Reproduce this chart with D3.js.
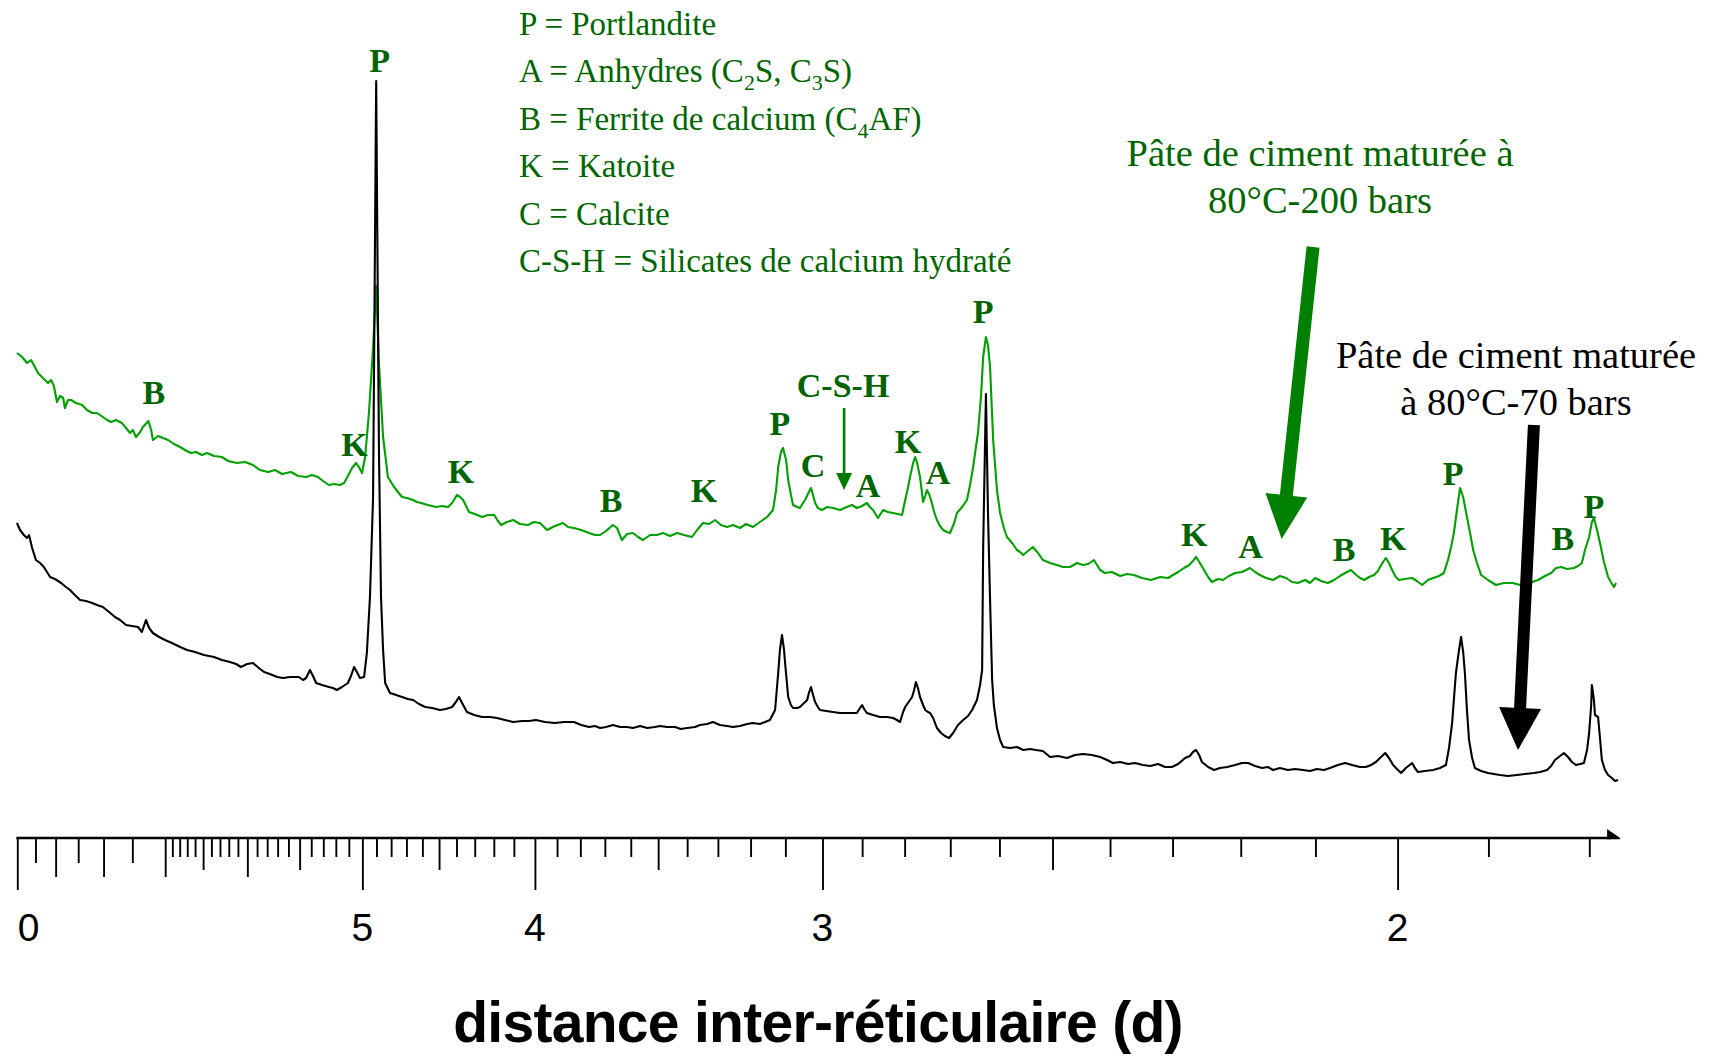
<!DOCTYPE html>
<html>
<head>
<meta charset="utf-8">
<script src="https://cdn.jsdelivr.net/npm/d3@7"></script>
<style>
  html, body { margin: 0; padding: 0; background: #ffffff; }
  svg { display: block; }
</style>
</head>
<body>
<svg id="chart" width="1710" height="1057"></svg>
<script>
// X-ray diffraction scans of two cement pastes.
// Each point: [s = 1/d (Å⁻¹), intensity (arbitrary units)].

// Paste cured at 80°C - 200 bars (green trace)
const scan200bar = [
  [0.0999,485],[0.1014,481],[0.1028,475],[0.1040,478],[0.1051,471],[0.1060,465],[0.1074,460],[0.1089,455],
  [0.1098,458],[0.1106,452],[0.1115,436],[0.1124,442],[0.1133,440],[0.1138,430],[0.1147,438],[0.1156,438],
  [0.1170,435],[0.1188,433],[0.1202,428],[0.1217,425],[0.1231,425],[0.1248,421],[0.1260,418],[0.1272,416],
  [0.1286,418],[0.1303,415],[0.1315,410],[0.1327,405],[0.1335,408],[0.1344,401],[0.1356,406],[0.1364,411],
  [0.1380,417],[0.1388,408],[0.1393,398],[0.1408,402],[0.1422,400],[0.1437,398],[0.1454,394],[0.1472,391],
  [0.1486,388],[0.1503,385],[0.1518,386],[0.1535,383],[0.1550,385],[0.1570,382],[0.1593,381],[0.1611,377],
  [0.1637,375],[0.1660,376],[0.1683,373],[0.1703,368],[0.1727,366],[0.1747,368],[0.1767,364],[0.1793,366],
  [0.1814,362],[0.1837,361],[0.1854,363],[0.1871,361],[0.1886,357],[0.1903,353],[0.1918,354],[0.1935,353],
  [0.1947,355],[0.1958,362],[0.1970,370],[0.1982,375],[0.1990,371],[0.1999,365],[0.2008,381],[0.2019,425],
  [0.2031,491],[0.2040,552],[0.2048,475],[0.2060,401],[0.2074,361],[0.2092,351],[0.2103,346],[0.2115,341],
  [0.2129,340],[0.2147,338],[0.2158,336],[0.2170,335],[0.2190,333],[0.2213,331],[0.2231,332],[0.2248,331],
  [0.2260,335],[0.2274,343],[0.2283,341],[0.2292,338],[0.2309,326],[0.2326,324],[0.2347,321],[0.2364,323],
  [0.2382,323],[0.2393,317],[0.2402,313],[0.2419,316],[0.2437,318],[0.2457,314],[0.2480,313],[0.2497,316],
  [0.2515,315],[0.2535,308],[0.2558,312],[0.2581,315],[0.2596,311],[0.2613,310],[0.2634,308],[0.2657,305],
  [0.2674,303],[0.2689,303],[0.2706,307],[0.2726,313],[0.2738,310],[0.2752,298],[0.2767,304],[0.2784,305],
  [0.2799,301],[0.2813,298],[0.2834,303],[0.2854,303],[0.2871,305],[0.2892,302],[0.2912,305],[0.2932,303],
  [0.2955,301],[0.2970,308],[0.2987,315],[0.3005,314],[0.3022,318],[0.3039,313],[0.3057,311],[0.3074,313],
  [0.3094,310],[0.3112,314],[0.3132,311],[0.3152,316],[0.3173,321],[0.3190,328],[0.3199,348],[0.3205,371],
  [0.3213,386],[0.3219,390],[0.3228,378],[0.3234,358],[0.3242,343],[0.3248,333],[0.3260,331],[0.3268,330],
  [0.3277,335],[0.3283,338],[0.3291,344],[0.3300,350],[0.3306,343],[0.3312,335],[0.3320,330],[0.3332,328],
  [0.3347,331],[0.3364,330],[0.3384,328],[0.3404,331],[0.3419,333],[0.3433,330],[0.3448,332],[0.3462,335],
  [0.3471,331],[0.3480,328],[0.3494,320],[0.3509,328],[0.3523,326],[0.3538,325],[0.3552,324],[0.3564,323],
  [0.3573,338],[0.3581,350],[0.3587,361],[0.3596,375],[0.3602,381],[0.3607,376],[0.3616,361],[0.3625,336],
  [0.3631,342],[0.3636,348],[0.3642,344],[0.3648,338],[0.3657,326],[0.3665,318],[0.3674,312],[0.3683,308],
  [0.3694,306],[0.3703,305],[0.3715,315],[0.3723,325],[0.3738,331],[0.3752,338],[0.3761,353],[0.3770,371],
  [0.3778,391],[0.3784,405],[0.3793,443],[0.3799,481],[0.3807,501],[0.3813,493],[0.3819,471],[0.3828,398],
  [0.3839,348],[0.3848,325],[0.3859,310],[0.3868,301],[0.3883,295],[0.3897,288],[0.3906,286],[0.3915,283],
  [0.3929,287],[0.3943,291],[0.3958,285],[0.3972,278],[0.3993,275],[0.4013,273],[0.4030,271],[0.4051,271],
  [0.4071,275],[0.4088,273],[0.4103,274],[0.4120,278],[0.4138,268],[0.4152,265],[0.4172,266],[0.4196,262],
  [0.4216,264],[0.4236,263],[0.4259,260],[0.4285,258],[0.4312,261],[0.4335,260],[0.4349,263],[0.4364,266],
  [0.4381,270],[0.4396,273],[0.4407,277],[0.4416,281],[0.4427,275],[0.4439,268],[0.4451,261],[0.4462,256],
  [0.4480,259],[0.4494,258],[0.4511,262],[0.4529,265],[0.4549,266],[0.4561,268],[0.4572,270],[0.4587,266],
  [0.4601,263],[0.4619,260],[0.4639,258],[0.4659,262],[0.4677,260],[0.4694,256],[0.4711,255],[0.4732,258],
  [0.4746,255],[0.4761,260],[0.4778,257],[0.4798,255],[0.4816,258],[0.4833,262],[0.4848,265],[0.4865,268],
  [0.4880,263],[0.4891,260],[0.4903,258],[0.4917,261],[0.4932,263],[0.4943,267],[0.4949,271],[0.4958,276],
  [0.4966,280],[0.4975,275],[0.4987,266],[0.4995,261],[0.5004,258],[0.5021,259],[0.5042,260],[0.5056,257],
  [0.5071,253],[0.5088,258],[0.5103,260],[0.5120,262],[0.5134,265],[0.5146,278],[0.5155,291],[0.5163,305],
  [0.5172,328],[0.5181,350],[0.5190,341],[0.5201,321],[0.5210,305],[0.5219,288],[0.5230,275],[0.5242,263],
  [0.5262,258],[0.5285,253],[0.5308,255],[0.5334,255],[0.5355,253],[0.5372,256],[0.5384,255],[0.5398,257],
  [0.5407,258],[0.5427,262],[0.5445,265],[0.5459,270],[0.5474,271],[0.5491,269],[0.5511,270],[0.5523,272],
  [0.5534,275],[0.5543,288],[0.5555,301],[0.5563,316],[0.5569,320],[0.5578,308],[0.5589,291],[0.5598,276],
  [0.5610,261],[0.5618,256],[0.5627,251],[0.5633,255]
];

// Paste cured at 80°C - 70 bars (black trace)
const scan70bar = [
  [0.0999,315],[0.1008,308],[0.1019,303],[0.1028,300],[0.1034,303],[0.1043,290],[0.1054,278],[0.1066,275],
  [0.1077,271],[0.1086,266],[0.1095,261],[0.1109,259],[0.1127,255],[0.1141,251],[0.1153,248],[0.1161,245],
  [0.1173,241],[0.1182,238],[0.1199,237],[0.1217,235],[0.1231,233],[0.1248,231],[0.1266,226],[0.1283,221],
  [0.1298,218],[0.1315,213],[0.1332,212],[0.1350,211],[0.1361,206],[0.1367,212],[0.1373,218],[0.1382,210],
  [0.1393,205],[0.1411,201],[0.1428,198],[0.1448,195],[0.1472,191],[0.1492,188],[0.1515,186],[0.1541,183],
  [0.1570,181],[0.1593,178],[0.1616,176],[0.1634,174],[0.1648,171],[0.1666,174],[0.1683,175],[0.1700,170],
  [0.1715,166],[0.1732,164],[0.1753,161],[0.1770,160],[0.1790,161],[0.1816,161],[0.1828,158],[0.1837,160],
  [0.1848,168],[0.1857,162],[0.1866,155],[0.1883,153],[0.1903,151],[0.1915,150],[0.1926,148],[0.1941,151],
  [0.1958,155],[0.1967,162],[0.1976,171],[0.1984,166],[0.1993,160],[0.2005,161],[0.2013,185],[0.2022,241],
  [0.2031,341],[0.2040,757],[0.2048,388],[0.2054,241],[0.2060,188],[0.2066,155],[0.2080,145],[0.2098,143],
  [0.2115,141],[0.2132,139],[0.2147,138],[0.2164,134],[0.2182,131],[0.2202,130],[0.2225,128],[0.2242,129],
  [0.2260,131],[0.2271,136],[0.2280,141],[0.2289,135],[0.2303,126],[0.2324,123],[0.2347,121],[0.2370,121],
  [0.2390,120],[0.2413,118],[0.2437,116],[0.2463,117],[0.2483,117],[0.2503,118],[0.2529,116],[0.2558,115],
  [0.2584,116],[0.2613,116],[0.2634,113],[0.2657,111],[0.2674,112],[0.2689,110],[0.2706,111],[0.2726,113],
  [0.2747,111],[0.2767,111],[0.2784,110],[0.2805,112],[0.2825,110],[0.2848,111],[0.2862,112],[0.2883,111],
  [0.2906,111],[0.2923,109],[0.2941,110],[0.2964,111],[0.2978,113],[0.2999,114],[0.3016,116],[0.3036,113],
  [0.3057,112],[0.3074,111],[0.3094,112],[0.3115,114],[0.3132,115],[0.3152,114],[0.3167,116],[0.3181,118],
  [0.3196,128],[0.3205,165],[0.3210,188],[0.3216,203],[0.3222,188],[0.3225,175],[0.3234,141],[0.3242,133],
  [0.3248,130],[0.3260,130],[0.3268,131],[0.3280,135],[0.3289,138],[0.3294,145],[0.3300,151],[0.3306,143],
  [0.3312,136],[0.3320,131],[0.3326,128],[0.3344,127],[0.3364,126],[0.3384,125],[0.3404,125],[0.3419,125],
  [0.3433,125],[0.3442,130],[0.3448,133],[0.3454,129],[0.3462,125],[0.3480,123],[0.3500,121],[0.3520,121],
  [0.3538,120],[0.3549,118],[0.3558,116],[0.3567,126],[0.3573,131],[0.3581,135],[0.3593,141],[0.3599,148],
  [0.3604,156],[0.3610,150],[0.3616,141],[0.3625,133],[0.3631,128],[0.3639,126],[0.3645,125],[0.3654,120],
  [0.3665,110],[0.3677,105],[0.3688,102],[0.3700,100],[0.3712,105],[0.3726,113],[0.3741,118],[0.3755,122],
  [0.3767,128],[0.3781,138],[0.3790,153],[0.3796,168],[0.3799,291],[0.3807,444],[0.3813,325],[0.3819,238],
  [0.3825,158],[0.3830,133],[0.3839,110],[0.3848,98],[0.3857,91],[0.3877,90],[0.3897,91],[0.3915,88],
  [0.3935,89],[0.3952,88],[0.3972,87],[0.3993,81],[0.4016,82],[0.4042,80],[0.4065,83],[0.4088,84],
  [0.4114,83],[0.4138,81],[0.4158,78],[0.4175,75],[0.4196,76],[0.4219,74],[0.4239,75],[0.4262,73],
  [0.4283,72],[0.4306,74],[0.4326,71],[0.4346,71],[0.4364,74],[0.4384,80],[0.4398,82],[0.4407,86],
  [0.4416,88],[0.4425,83],[0.4433,76],[0.4451,71],[0.4468,68],[0.4485,70],[0.4506,71],[0.4529,73],
  [0.4549,75],[0.4567,75],[0.4587,72],[0.4607,70],[0.4624,71],[0.4639,68],[0.4659,70],[0.4682,68],
  [0.4703,69],[0.4726,68],[0.4746,67],[0.4766,69],[0.4787,68],[0.4804,70],[0.4827,73],[0.4848,75],
  [0.4868,73],[0.4891,71],[0.4908,71],[0.4923,73],[0.4937,76],[0.4949,80],[0.4964,85],[0.4975,80],
  [0.4987,73],[0.4998,69],[0.5010,65],[0.5024,70],[0.5042,75],[0.5050,70],[0.5059,66],[0.5079,67],
  [0.5103,68],[0.5123,70],[0.5140,73],[0.5149,90],[0.5158,115],[0.5163,138],[0.5169,165],[0.5178,188],
  [0.5184,201],[0.5190,186],[0.5195,165],[0.5201,128],[0.5207,98],[0.5216,80],[0.5224,70],[0.5242,67],
  [0.5262,65],[0.5279,64],[0.5297,63],[0.5320,62],[0.5346,63],[0.5369,64],[0.5395,65],[0.5413,66],
  [0.5433,68],[0.5445,72],[0.5456,78],[0.5471,82],[0.5482,85],[0.5494,81],[0.5505,76],[0.5517,73],
  [0.5529,74],[0.5540,75],[0.5549,88],[0.5555,105],[0.5561,133],[0.5563,153],[0.5569,138],[0.5572,123],
  [0.5581,121],[0.5587,98],[0.5592,78],[0.5601,68],[0.5610,63],[0.5621,60],[0.5630,57],[0.5639,58]
];

// Phase labels above the peaks: [text, s (Å⁻¹), intensity of the label baseline]
const peakLabels = [
  ["B",0.1396,434],["K",0.1977,382],["P",0.2050,766],["K",0.2286,355],["B",0.2721,326],
  ["K",0.2990,336],["P",0.3210,403],["C",0.3306,361],["A",0.3465,341],["K",0.3581,385],
  ["A",0.3668,354],["P",0.3799,515],["K",0.4411,292],["A",0.4574,280],["B",0.4845,277],
  ["K",0.4987,288],["P",0.5161,353],["B",0.5479,288],["P",0.5569,320],["C-S-H",0.3393,441]
];

// d-spacing ruler (Å)
const dMajor = [10, 5, 4, 3, 2];
const dMajorLabels = ["0", "5", "4", "3", "2"];
const dTall = [9, 8, 7, 6];
const dHalfTenth = [6.5, 5.5, 4.5, 3.5, 2.5];
const dHalfUnit = [9.5, 8.5, 7.5];
const dMinor = [6.9,6.8,6.7,6.6,6.4,6.3,6.2,6.1, 5.9,5.8,5.7,5.6,5.4,5.3,5.2,5.1,
                4.9,4.8,4.7,4.6,4.4,4.3,4.2,4.1, 3.9,3.8,3.7,3.6,3.4,3.3,3.2,3.1,
                2.9,2.8,2.7,2.6,2.4,2.3,2.2,2.1, 1.9,1.8];
const sAxisEnd = 0.5642;

// Key of phase abbreviations; [text, isSubscript]
const legendLines = [
  [["P = Portlandite", false]],
  [["A = Anhydres (C", false], ["2", true], ["S, C", false], ["3", true], ["S)", false]],
  [["B = Ferrite de calcium (C", false], ["4", true], ["AF)", false]],
  [["K = Katoite", false]],
  [["C = Calcite", false]],
  [["C-S-H = Silicates de calcium hydraté", false]]
];

const sampleCaptions = [
  {lines: ["Pâte de ciment maturée à", "80°C-200 bars"], color: "#006600", cx: 1320, y0: 166},
  {lines: ["Pâte de ciment maturée", "à 80°C-70 bars"], color: "#000000", cx: 1516, y0: 368}
];

// Pointer arrows, in data coordinates: from [s, I] to tip [s, I]
const pointerArrows = [
  {from: [0.4755, 591], to: [0.4664, 299], color: "#008000", shaft: 13, headW: 42, headL: 44},
  {from: [0.5395, 413], to: [0.5349, 88], color: "#000000", shaft: 12, headW: 42, headL: 42},
  {from: [0.3396, 430], to: [0.3396, 348], color: "#007a00", shaft: 2.6, headW: 16, headL: 17}
];

const svg = d3.select("#chart");
const x = d3.scaleLinear().domain([0.1, 0.5]).range([17.3, 1397.6]);
const y = d3.scaleLinear().domain([0, 800]).range([838, 38]);

const serif = "'Liberation Serif', 'Times New Roman', serif";
const sans = "'Liberation Sans', Arial, Helvetica, sans-serif";

// Traces
const line = d3.line().x(d => x(d[0])).y(d => y(d[1]));
svg.append("path").datum(scan200bar)
  .attr("d", line).attr("fill", "none").attr("stroke", "#00a000")
  .attr("stroke-width", 2.1).attr("stroke-linejoin", "round");
svg.append("path").datum(scan70bar)
  .attr("d", line).attr("fill", "none").attr("stroke", "#000000")
  .attr("stroke-width", 2.1).attr("stroke-linejoin", "round");

// Axis ruler
const axisG = svg.append("g").attr("transform", `translate(0,${y(0)})`);
function tickLayer(ds, size) {
  axisG.append("g")
    .call(d3.axisBottom(x).tickValues(ds.map(d => 1 / d)).tickSize(size).tickFormat(""))
    .call(g => g.select(".domain").remove())
    .call(g => g.selectAll(".tick line").attr("stroke", "#000").attr("stroke-width", 1.9));
}
tickLayer(dMajor, 52);
tickLayer(dTall, 39);
tickLayer(dHalfTenth, 32);
tickLayer(dHalfUnit, 25);
tickLayer(dMinor, 19);
axisG.append("line")
  .attr("x1", x(0.1) - 1).attr("x2", x(sAxisEnd) - 8)
  .attr("y1", 0).attr("y2", 0)
  .attr("stroke", "#000").attr("stroke-width", 2.4);
const xe = x(sAxisEnd);
axisG.append("path")
  .attr("d", `M${xe - 12},-9 L${xe + 1},0 L${xe + 1},1.2 L${xe - 12},1.2 Z`)
  .attr("fill", "#000");

axisG.selectAll("text.dlab").data(dMajor).join("text")
  .attr("class", "dlab")
  .attr("x", (d, i) => i === 0 ? x(1 / d) + 0.5 : x(1 / d))
  .attr("y", 103)
  .attr("text-anchor", (d, i) => i === 0 ? "start" : "middle")
  .attr("font-family", sans).attr("font-size", 39).attr("fill", "#000")
  .text((d, i) => dMajorLabels[i]);

svg.append("text")
  .attr("x", 818).attr("y", 1042)
  .attr("text-anchor", "middle")
  .attr("font-family", sans).attr("font-weight", "bold")
  .attr("font-size", 57).attr("letter-spacing", -0.7).attr("fill", "#000")
  .text("distance inter-réticulaire (d)");

// Peak labels
svg.selectAll("text.peak").data(peakLabels).join("text")
  .attr("class", "peak")
  .attr("x", d => x(d[1])).attr("y", d => y(d[2]))
  .attr("text-anchor", "middle")
  .attr("font-family", serif).attr("font-weight", "bold")
  .attr("font-size", 34).attr("fill", "#006400")
  .text(d => d[0]);

// Legend
const legend = svg.append("g");
legendLines.forEach((parts, i) => {
  const t = legend.append("text")
    .attr("x", 519).attr("y", 35 + i * 47.4)
    .attr("font-family", serif).attr("font-size", 33).attr("fill", "#006600");
  let shifted = false;
  parts.forEach(([txt, sub]) => {
    const ts = t.append("tspan").text(txt);
    if (sub) { ts.attr("font-size", 22).attr("dy", 8); shifted = true; }
    else if (shifted) { ts.attr("dy", -8); shifted = false; }
  });
});

// Sample captions
sampleCaptions.forEach(c => {
  c.lines.forEach((ln, i) => {
    svg.append("text")
      .attr("x", c.cx).attr("y", c.y0 + i * 47)
      .attr("text-anchor", "middle")
      .attr("font-family", serif).attr("font-size", 38.5).attr("fill", c.color)
      .text(ln);
  });
});

// Arrows
pointerArrows.forEach(a => {
  const x0 = x(a.from[0]), y0 = y(a.from[1]);
  const x1 = x(a.to[0]), y1 = y(a.to[1]);
  const len = Math.hypot(x1 - x0, y1 - y0);
  const ux = (x1 - x0) / len, uy = (y1 - y0) / len;
  const px = -uy, py = ux;
  const bx = x1 - ux * a.headL, by = y1 - uy * a.headL;
  const hs = a.shaft / 2, hw = a.headW / 2;
  const pts = [
    [x0 + px * hs, y0 + py * hs], [bx + px * hs, by + py * hs], [bx + px * hw, by + py * hw],
    [x1, y1],
    [bx - px * hw, by - py * hw], [bx - px * hs, by - py * hs], [x0 - px * hs, y0 - py * hs]
  ];
  svg.append("polygon")
    .attr("points", pts.map(p => p.join(",")).join(" "))
    .attr("fill", a.color);
});
</script>
</body>
</html>
